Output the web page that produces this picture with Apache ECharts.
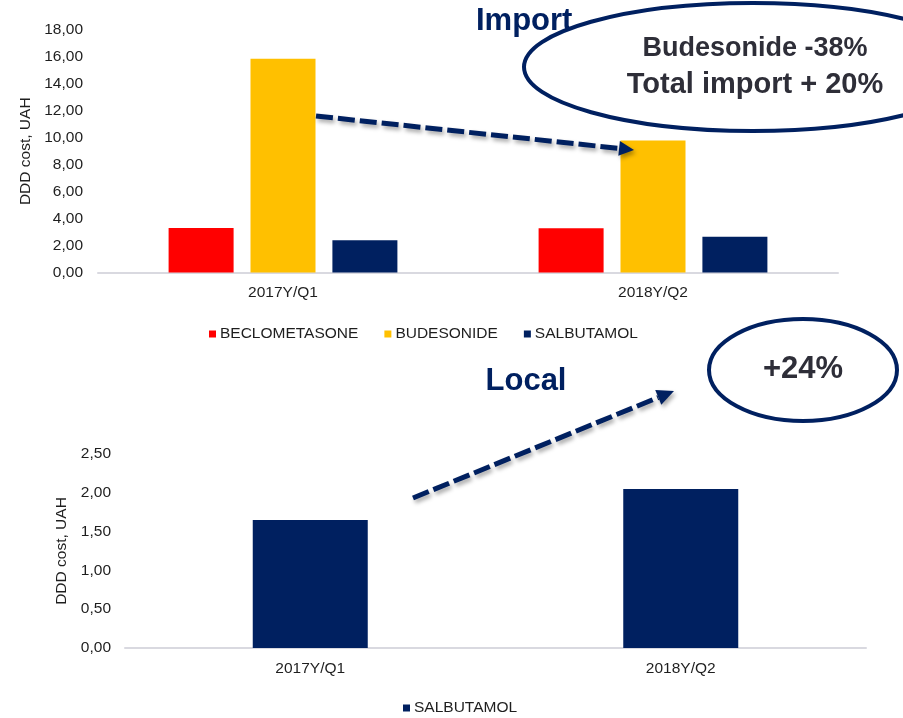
<!DOCTYPE html>
<html>
<head>
<meta charset="utf-8">
<script src="https://cdn.jsdelivr.net/npm/echarts@6/dist/echarts.min.js"></script>
<style>
  html, body { margin: 0; padding: 0; background: #ffffff; }
  #chart { width: 903px; height: 718px; }
</style>
</head>
<body>
<div id="chart"></div>
<script>
// Quarters compared in both panels
const categories = ['2017Y/Q1', '2018Y/Q2'];

// Import panel: DDD cost, UAH
const beclometasoneImport = [3.30, 3.28];
const budesonideImport = [15.87, 9.80];
const salbutamolImport = [2.40, 2.65];

// Local panel: DDD cost, UAH
const salbutamolLocal = [1.65, 2.05];

// Value axis ticks
const importTicks = { min: 0, max: 18, interval: 2 };
const localTicks = { min: 0, max: 2.5, interval: 0.5 };

const RED = '#FF0000';
const YELLOW = '#FFC000';
const NAVY = '#002060';
const TEXT = '#1E1E1E';
const NOTE = '#2E2E38';
const FONT = 'Liberation Sans, Arial, sans-serif';

const commaFmt = v => v.toFixed(2).replace('.', ',');

// Dashed arrow with a soft drop shadow, built as a line plus a triangular head
function dashedArrow(x1, y1, x2, y2, headLen, headHalf) {
  const dx = x2 - x1, dy = y2 - y1;
  const len = Math.sqrt(dx * dx + dy * dy);
  const ux = dx / len, uy = dy / len;
  const nx = -uy, ny = ux;
  const bx = x2 - ux * headLen, by = y2 - uy * headLen;
  const shadow = {
    shadowBlur: 4,
    shadowColor: 'rgba(0,0,0,0.35)',
    shadowOffsetX: 2,
    shadowOffsetY: 3
  };
  return [
    {
      type: 'line',
      z: 100,
      shape: { x1: x1, y1: y1, x2: bx, y2: by },
      style: Object.assign({ stroke: NAVY, lineWidth: 5, lineDash: [17, 5], lineCap: 'butt' }, shadow)
    },
    {
      type: 'polygon',
      z: 100,
      shape: {
        points: [
          [x2, y2],
          [bx + nx * headHalf, by + ny * headHalf],
          [bx - nx * headHalf, by - ny * headHalf]
        ]
      },
      style: Object.assign({ fill: NAVY }, shadow)
    }
  ];
}

const chart = echarts.init(document.getElementById('chart'), null, { renderer: 'canvas' });

const axisLabelStyle = { color: TEXT, fontSize: 15.5, fontFamily: FONT };

const option = {
  animation: false,
  backgroundColor: '#ffffff',
  textStyle: { fontFamily: FONT },
  grid: [
    { left: 98, top: 30, width: 740, height: 242.5, containLabel: false },
    { left: 125, top: 454, width: 741, height: 194, containLabel: false }
  ],
  legend: [
    {
      left: 209, top: 326, padding: 0,
      icon: 'rect', itemWidth: 7, itemHeight: 7, itemGap: 26,
      textStyle: { color: TEXT, fontSize: 15.5, fontFamily: FONT, padding: [0, 0, 0, -1] },
      data: ['BECLOMETASONE', 'BUDESONIDE', 'SALBUTAMOL'],
      selectedMode: false
    },
    {
      left: 403, top: 700, padding: 0,
      icon: 'rect', itemWidth: 7, itemHeight: 7,
      textStyle: { color: TEXT, fontSize: 15.5, fontFamily: FONT, padding: [0, 0, 0, -1] },
      data: ['SALBUTAMOL '],
      selectedMode: false
    }
  ],
  xAxis: [
    {
      type: 'category', gridIndex: 0, data: categories,
      axisLine: { lineStyle: { color: '#D9D9E0', width: 2 } },
      axisTick: { show: false },
      axisLabel: Object.assign({ margin: 12 }, axisLabelStyle)
    },
    {
      type: 'category', gridIndex: 1, data: categories,
      axisLine: { lineStyle: { color: '#D9D9E0', width: 2 } },
      axisTick: { show: false },
      axisLabel: Object.assign({ margin: 13 }, axisLabelStyle)
    }
  ],
  yAxis: [
    {
      type: 'value', gridIndex: 0,
      min: importTicks.min, max: importTicks.max, interval: importTicks.interval,
      name: 'DDD cost, UAH', nameLocation: 'middle', nameRotate: 90, nameGap: 62,
      nameTextStyle: { color: TEXT, fontSize: 15.5, fontFamily: FONT },
      axisLine: { show: false }, axisTick: { show: false }, splitLine: { show: false },
      axisLabel: Object.assign({ margin: 15, formatter: commaFmt }, axisLabelStyle)
    },
    {
      type: 'value', gridIndex: 1,
      min: localTicks.min, max: localTicks.max, interval: localTicks.interval,
      name: 'DDD cost, UAH', nameLocation: 'middle', nameRotate: 90, nameGap: 50,
      nameTextStyle: { color: TEXT, fontSize: 15.5, fontFamily: FONT },
      axisLine: { show: false }, axisTick: { show: false }, splitLine: { show: false },
      axisLabel: Object.assign({ margin: 14, formatter: commaFmt }, axisLabelStyle)
    }
  ],
  series: [
    {
      name: 'BECLOMETASONE', type: 'bar', xAxisIndex: 0, yAxisIndex: 0,
      data: beclometasoneImport, barWidth: 65, barGap: '26%',
      itemStyle: { color: RED }
    },
    {
      name: 'BUDESONIDE', type: 'bar', xAxisIndex: 0, yAxisIndex: 0,
      data: budesonideImport, barWidth: 65, barGap: '26%',
      itemStyle: { color: YELLOW }
    },
    {
      name: 'SALBUTAMOL', type: 'bar', xAxisIndex: 0, yAxisIndex: 0,
      data: salbutamolImport, barWidth: 65, barGap: '26%',
      itemStyle: { color: NAVY }
    },
    {
      name: 'SALBUTAMOL ', type: 'bar', xAxisIndex: 1, yAxisIndex: 1,
      data: salbutamolLocal, barWidth: 115,
      itemStyle: { color: NAVY }
    }
  ],
  graphic: [
    // Panel headings
    {
      type: 'text', z: 90, x: 476, y: 21,
      style: { text: 'Import', fill: NAVY, font: 'bold 31px ' + FONT, textAlign: 'left', textVerticalAlign: 'middle' }
    },
    {
      type: 'text', z: 90, x: 526, y: 381,
      style: { text: 'Local', fill: NAVY, font: 'bold 31px ' + FONT, textAlign: 'center', textVerticalAlign: 'middle' }
    },
    // Callout for the import panel
    {
      type: 'ellipse', z: 100,
      shape: { cx: 753, cy: 67, rx: 229, ry: 64 },
      style: { fill: 'none', stroke: NAVY, lineWidth: 4 }
    },
    {
      type: 'text', z: 101, x: 755, y: 49,
      style: { text: 'Budesonide -38%', fill: NOTE, font: 'bold 27px ' + FONT, textAlign: 'center', textVerticalAlign: 'middle' }
    },
    {
      type: 'text', z: 101, x: 755, y: 85,
      style: { text: 'Total import + 20%', fill: NOTE, font: 'bold 29px ' + FONT, textAlign: 'center', textVerticalAlign: 'middle' }
    },
    // Callout for the local panel
    {
      type: 'ellipse', z: 100,
      shape: { cx: 803, cy: 370, rx: 94, ry: 51 },
      style: { fill: 'none', stroke: NAVY, lineWidth: 4 }
    },
    {
      type: 'text', z: 101, x: 803, y: 369,
      style: { text: '+24%', fill: NOTE, font: 'bold 31px ' + FONT, textAlign: 'center', textVerticalAlign: 'middle' }
    }
  ]
    .concat(dashedArrow(316, 116, 634, 150, 15, 7.5))
    .concat(dashedArrow(413, 498, 674, 391, 17, 8))
};

chart.setOption(option);
</script>
</body>
</html>
